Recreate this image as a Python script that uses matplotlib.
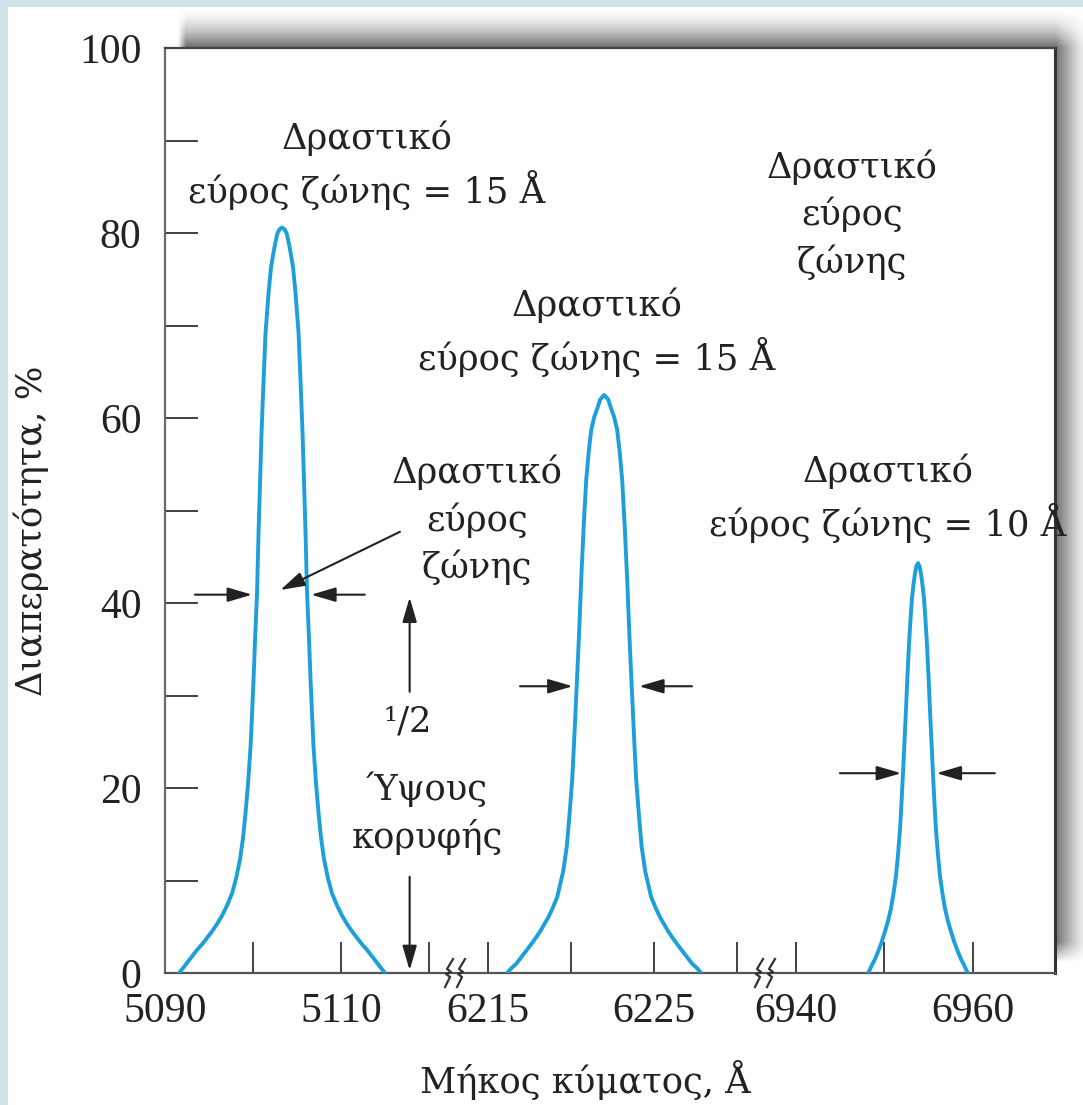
import numpy as np
import matplotlib
matplotlib.use('Agg')
import matplotlib.pyplot as plt
from matplotlib.ticker import FixedLocator, FixedFormatter

plt.rcParams['font.family'] = ['Liberation Serif', 'DejaVu Serif']

# --- data ---
# each peak is symmetric: centre wavelength (A) plus the half profile
# (distance from centre in A, transmittance in %)
peak1_center = 5103.3
peak1_offset = [0, 0.284, 0.511, 0.682, 0.852, 1.023, 1.25, 1.534, 1.875, 2.102, 2.33, 2.5,
                2.67, 2.841, 3.068, 3.239, 3.409, 3.58, 3.864, 4.148, 4.432, 4.773, 5.227,
                5.682, 6.25, 6.818, 7.386, 7.955, 8.523, 9.091, 9.659, 10.227, 10.795,
                11.364, 11.705]
peak1_t = [80.6, 80.4, 80.0, 79.3, 78.5, 77.6, 76.3, 73.5, 69.2, 64.0, 58.4, 53.0, 47.6, 41.1,
           36.0, 31.7, 28.0, 24.4, 20.5, 17.3, 14.6, 12.3, 10.2, 8.6, 7.3, 6.2, 5.3, 4.5,
           3.8, 3.1, 2.5, 1.8, 1.1, 0.4, 0.0]

peak2_center = 6222.0
peak2_offset = [0, 0.241, 0.422, 0.602, 0.783, 0.934, 1.084, 1.235, 1.386, 1.506, 1.657,
                1.807, 1.928, 2.108, 2.259, 2.47, 2.831, 3.133, 3.373, 3.855, 4.277, 4.699,
                5.301, 5.602, 5.843]
peak2_t = [62.5, 62.0, 61.0, 60.1, 58.7, 56.3, 53.3, 48.3, 42.5, 37.0, 31.0, 25.2, 20.9,
           16.7, 13.6, 11.0, 8.2, 6.9, 6.0, 4.5, 3.4, 2.4, 1.0, 0.5, 0.0]

peak3_center = 6953.8
peak3_offset = [0, 0.169, 0.339, 0.508, 0.678, 0.847, 1.017, 1.186, 1.356, 1.525, 1.695,
                1.864, 2.034, 2.26, 2.486, 2.768, 3.051, 3.39, 3.729, 4.124, 4.52, 4.859,
                5.198, 5.424, 5.65]
peak3_t = [44.3, 44.0, 43.2, 42.0, 40.5, 38.2, 35.5, 32.2, 28.5, 25.0, 21.6, 18.4, 15.5,
           12.8, 10.5, 8.6, 7.0, 5.6, 4.5, 3.3, 2.3, 1.5, 0.9, 0.4, 0.0]

xtick_values = [5090, 5100, 5110, 5120, 6215, 6220, 6225, 6230, 6940, 6950, 6960]
xtick_labels = ['5090', '', '5110', '', '6215', '', '6225', '', '6940', '', '6960']
ytick_values = [0, 10, 20, 30, 40, 50, 60, 70, 80, 90, 100]
ytick_labels = ['0', '', '20', '', '40', '', '60', '', '80', '', '100']

# broken x axis: wavelength knots -> position along the axis (pixels)
knot_wl = [5090, 5123.0, 6213.5, 6231.5, 6938.0, 6969.3]
knot_u = [165, 455.4, 463.1, 761.9, 778.3, 1055]


def fwd(w):
    return np.interp(w, knot_wl, knot_u)


def inv(u):
    return np.interp(u, knot_u, knot_wl)


def full_profile(center, offset, t):
    off = np.asarray(offset)
    wl = np.concatenate([center - off[::-1], center + off[1:]])
    tt = np.concatenate([np.asarray(t)[::-1], np.asarray(t)[1:]])
    return wl, tt


W, H = 1083, 1105
fig = plt.figure(figsize=(W / 100, H / 100), dpi=100)

# background: light frame + raised shadow behind the plot box
bg = fig.add_axes([0, 0, 1, 1], zorder=-5)
bg.axis('off')
yy, xx = np.mgrid[0:H, 0:W] + 0.5

sx = np.clip((xx - 178) / 8, 0, 1) * np.clip((1090 - xx) / 34, 0, 1) ** 1.3
sy = np.clip((yy - 9) / 38, 0, 1) ** 1.6 * np.clip((962 - yy) / 20, 0, 1)
shade = 1 - 0.56 * sx * sy
img = np.dstack([shade, shade, shade])
frame = np.array([0.81, 0.89, 0.91])
img[:7, :, :] = frame
img[:, :8, :] = frame
bg.imshow(img, extent=[0, W, H, 0], interpolation='bilinear', aspect='auto')
bg.set_xlim(0, W)
bg.set_ylim(H, 0)

ax = fig.add_axes([165 / W, 1 - 973 / H, 890 / W, 925 / H], zorder=1)
ax.set_facecolor('white')
ax.set_xscale('function', functions=(fwd, inv))
ax.set_xlim(knot_wl[0], knot_wl[-1])
ax.set_ylim(0, 100)

blue = '#1c9fda'
for c, off, t in [(peak1_center, peak1_offset, peak1_t),
                  (peak2_center, peak2_offset, peak2_t),
                  (peak3_center, peak3_offset, peak3_t)]:
    wl, tt = full_profile(c, off, t)
    ax.plot(wl, tt, color=blue, lw=2.8, solid_capstyle='round', solid_joinstyle='round',
            zorder=3)

txt = '#222222'
ax.xaxis.set_major_locator(FixedLocator(xtick_values))
ax.xaxis.set_major_formatter(FixedFormatter(xtick_labels))
ax.yaxis.set_major_locator(FixedLocator(ytick_values))
ax.yaxis.set_major_formatter(FixedFormatter(ytick_labels))
ax.tick_params(axis='x', direction='in', length=22, width=1.3, color='#333333',
               labelsize=30, labelcolor=txt, pad=14)
ax.tick_params(axis='y', direction='in', length=24, width=1.3, color='#333333',
               labelsize=30, labelcolor=txt, pad=17)

for side, c, w in [('left', '#6a6a6a', 1.6), ('bottom', '#555555', 1.6),
                   ('top', '#444444', 1.6), ('right', '#333333', 2.2)]:
    ax.spines[side].set_color(c)
    ax.spines[side].set_linewidth(w)

gfont = ['DejaVu Serif']
fs = 25.5
ax.set_xlabel('Μήκος κύματος, Å', fontsize=fs, color=txt, va='center', family=gfont)
ax.xaxis.set_label_coords(0.472, -0.1157)
ax.set_ylabel('Διαπερατότητα, %', fontsize=fs, color=txt, va='center', family=gfont)
ax.yaxis.set_label_coords(-0.1506, 0.478)

# axis break marks
px, py = 1 / 890, 1 / 925
zig = [(-5, -14), (0, -4), (-4, -1), (1, 1), (-3, 4), (3, 14)]
for cx in [0.3270, 0.6753]:
    for off in [-6, 6]:
        ax.plot([cx + (off + a) * px for a, b in zig], [b * py for a, b in zig],
                color='#333333', lw=1.6, transform=ax.transAxes, clip_on=False, zorder=4)

# annotations
style = dict(transform=ax.transAxes, ha='center', va='center', fontsize=fs, color=txt,
             linespacing=1.42, family=gfont)
ax.text(0.227, 0.8735, 'Δραστικό\nεύρος ζώνης = 15 Å', **style)
ax.text(0.772, 0.8200, 'Δραστικό\nεύρος\nζώνης', **style)
ax.text(0.4854, 0.693, 'Δραστικό\nεύρος ζώνης = 15 Å', **style)
ax.text(0.3506, 0.4897, 'Δραστικό\nεύρος\nζώνης', **style)
ax.text(0.8124, 0.5135, 'Δραστικό\nεύρος ζώνης = 10 Å', **style)
ax.text(0.273, 0.2714, '¹/2', **style)
ax.text(0.2944, 0.173, 'Ύψους\nκορυφής', **style)

arrow = dict(arrowstyle='-|>,head_length=0.75,head_width=0.22', color='#222222', lw=1.5,
             shrinkA=0, shrinkB=0, mutation_scale=20)
arrows = [
    ((5093.4, 40.9), (5099.9, 40.9)),
    ((5112.7, 40.9), (5106.6, 40.9)),
    ((5116.7, 47.7), (5103.1, 41.4)),
    ((5117.8, 30.4), (5117.8, 40.6)),
    ((5117.8, 10.4), (5117.8, 0.3)),
    ((6216.93, 31.0), (6220.1, 31.0)),
    ((6227.29, 31.0), (6224.1, 31.0)),
    ((6944.97, 21.6), (6951.9, 21.6)),
    ((6962.49, 21.6), (6955.9, 21.6)),
]
for start, end in arrows:
    ax.annotate('', xy=end, xytext=start, arrowprops=arrow, zorder=5)

fig.savefig('out.png', dpi=100)
